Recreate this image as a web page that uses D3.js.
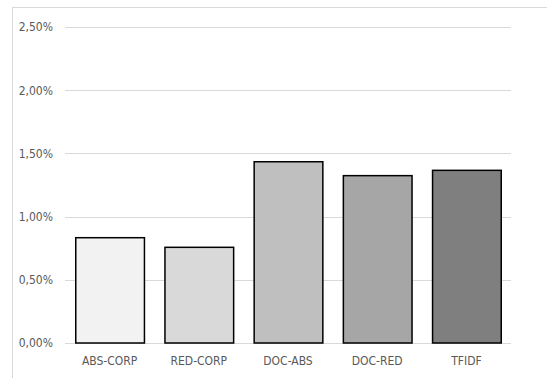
<!DOCTYPE html>
<html>
<head>
<meta charset="utf-8">
<script src="https://cdn.jsdelivr.net/npm/d3@7/dist/d3.min.js"></script>
<style>
  html, body { margin: 0; padding: 0; background: #fff; }
  svg { display: block; }
  .lbl { font-family: "DejaVu Sans Condensed", "Liberation Sans Narrow", sans-serif; font-size: 12px; fill: #595959; }
</style>
</head>
<body>
<script>
// Share of documents per method (as fractions)
const categories = ["ABS-CORP", "RED-CORP", "DOC-ABS", "DOC-RED", "TFIDF"];
const values = [0.00833, 0.00757, 0.01434, 0.01324, 0.01366];
const barColors = ["#f2f2f2", "#d9d9d9", "#bfbfbf", "#a6a6a6", "#7f7f7f"];
const yTicks = [0, 0.005, 0.01, 0.015, 0.02, 0.025];

const W = 547, H = 378;
const svg = d3.select("body").append("svg").attr("width", W).attr("height", H);

// chart area frame (only left and top edges fall inside the view)
svg.append("rect")
  .attr("x", 12.5).attr("y", 7.5)
  .attr("width", W + 20).attr("height", H + 20)
  .attr("fill", "#fff").attr("stroke", "#d9d9d9").attr("stroke-width", 1);

const plot = { left: 65, right: 511, top: 27, bottom: 343 };

const x = d3.scaleBand().domain(categories)
  .range([plot.left, plot.right]).paddingInner(0.23).paddingOuter(0.115);
const y = d3.scaleLinear().domain([0, 0.025]).range([plot.bottom, plot.top]);

const fmt = v => d3.format(".2f")(v * 100).replace(".", ",") + "%";

// horizontal gridlines
svg.append("g").selectAll("line").data(yTicks).join("line")
  .attr("x1", plot.left).attr("x2", plot.right)
  .attr("y1", d => Math.round(y(d)) + 0.5).attr("y2", d => Math.round(y(d)) + 0.5)
  .attr("stroke", "#d9d9d9").attr("stroke-width", 1);

// y axis labels
const yAxis = d3.axisLeft(y).tickValues(yTicks).tickFormat(fmt).tickSize(0).tickPadding(12);
const gy = svg.append("g").attr("transform", `translate(${plot.left},0)`).call(yAxis);
gy.select(".domain").remove();
gy.selectAll("text").attr("class", "lbl").attr("font-family", null).attr("font-size", null).attr("fill", null);

// bars
svg.append("g").selectAll("rect").data(categories).join("rect")
  .attr("x", d => x(d) + 0.5)
  .attr("y", (d, i) => y(values[i]))
  .attr("width", x.bandwidth())
  .attr("height", (d, i) => y(0) - y(values[i]))
  .attr("fill", (d, i) => barColors[i])
  .attr("stroke", "#000").attr("stroke-width", 1.5);

// category axis
const xAxis = d3.axisBottom(x).tickSize(0).tickPadding(13);
const gx = svg.append("g").attr("transform", `translate(0,${plot.bottom})`).call(xAxis);
gx.select(".domain").remove();
gx.selectAll("text").attr("class", "lbl").attr("font-family", null).attr("font-size", null).attr("fill", null);
</script>
</body>
</html>
